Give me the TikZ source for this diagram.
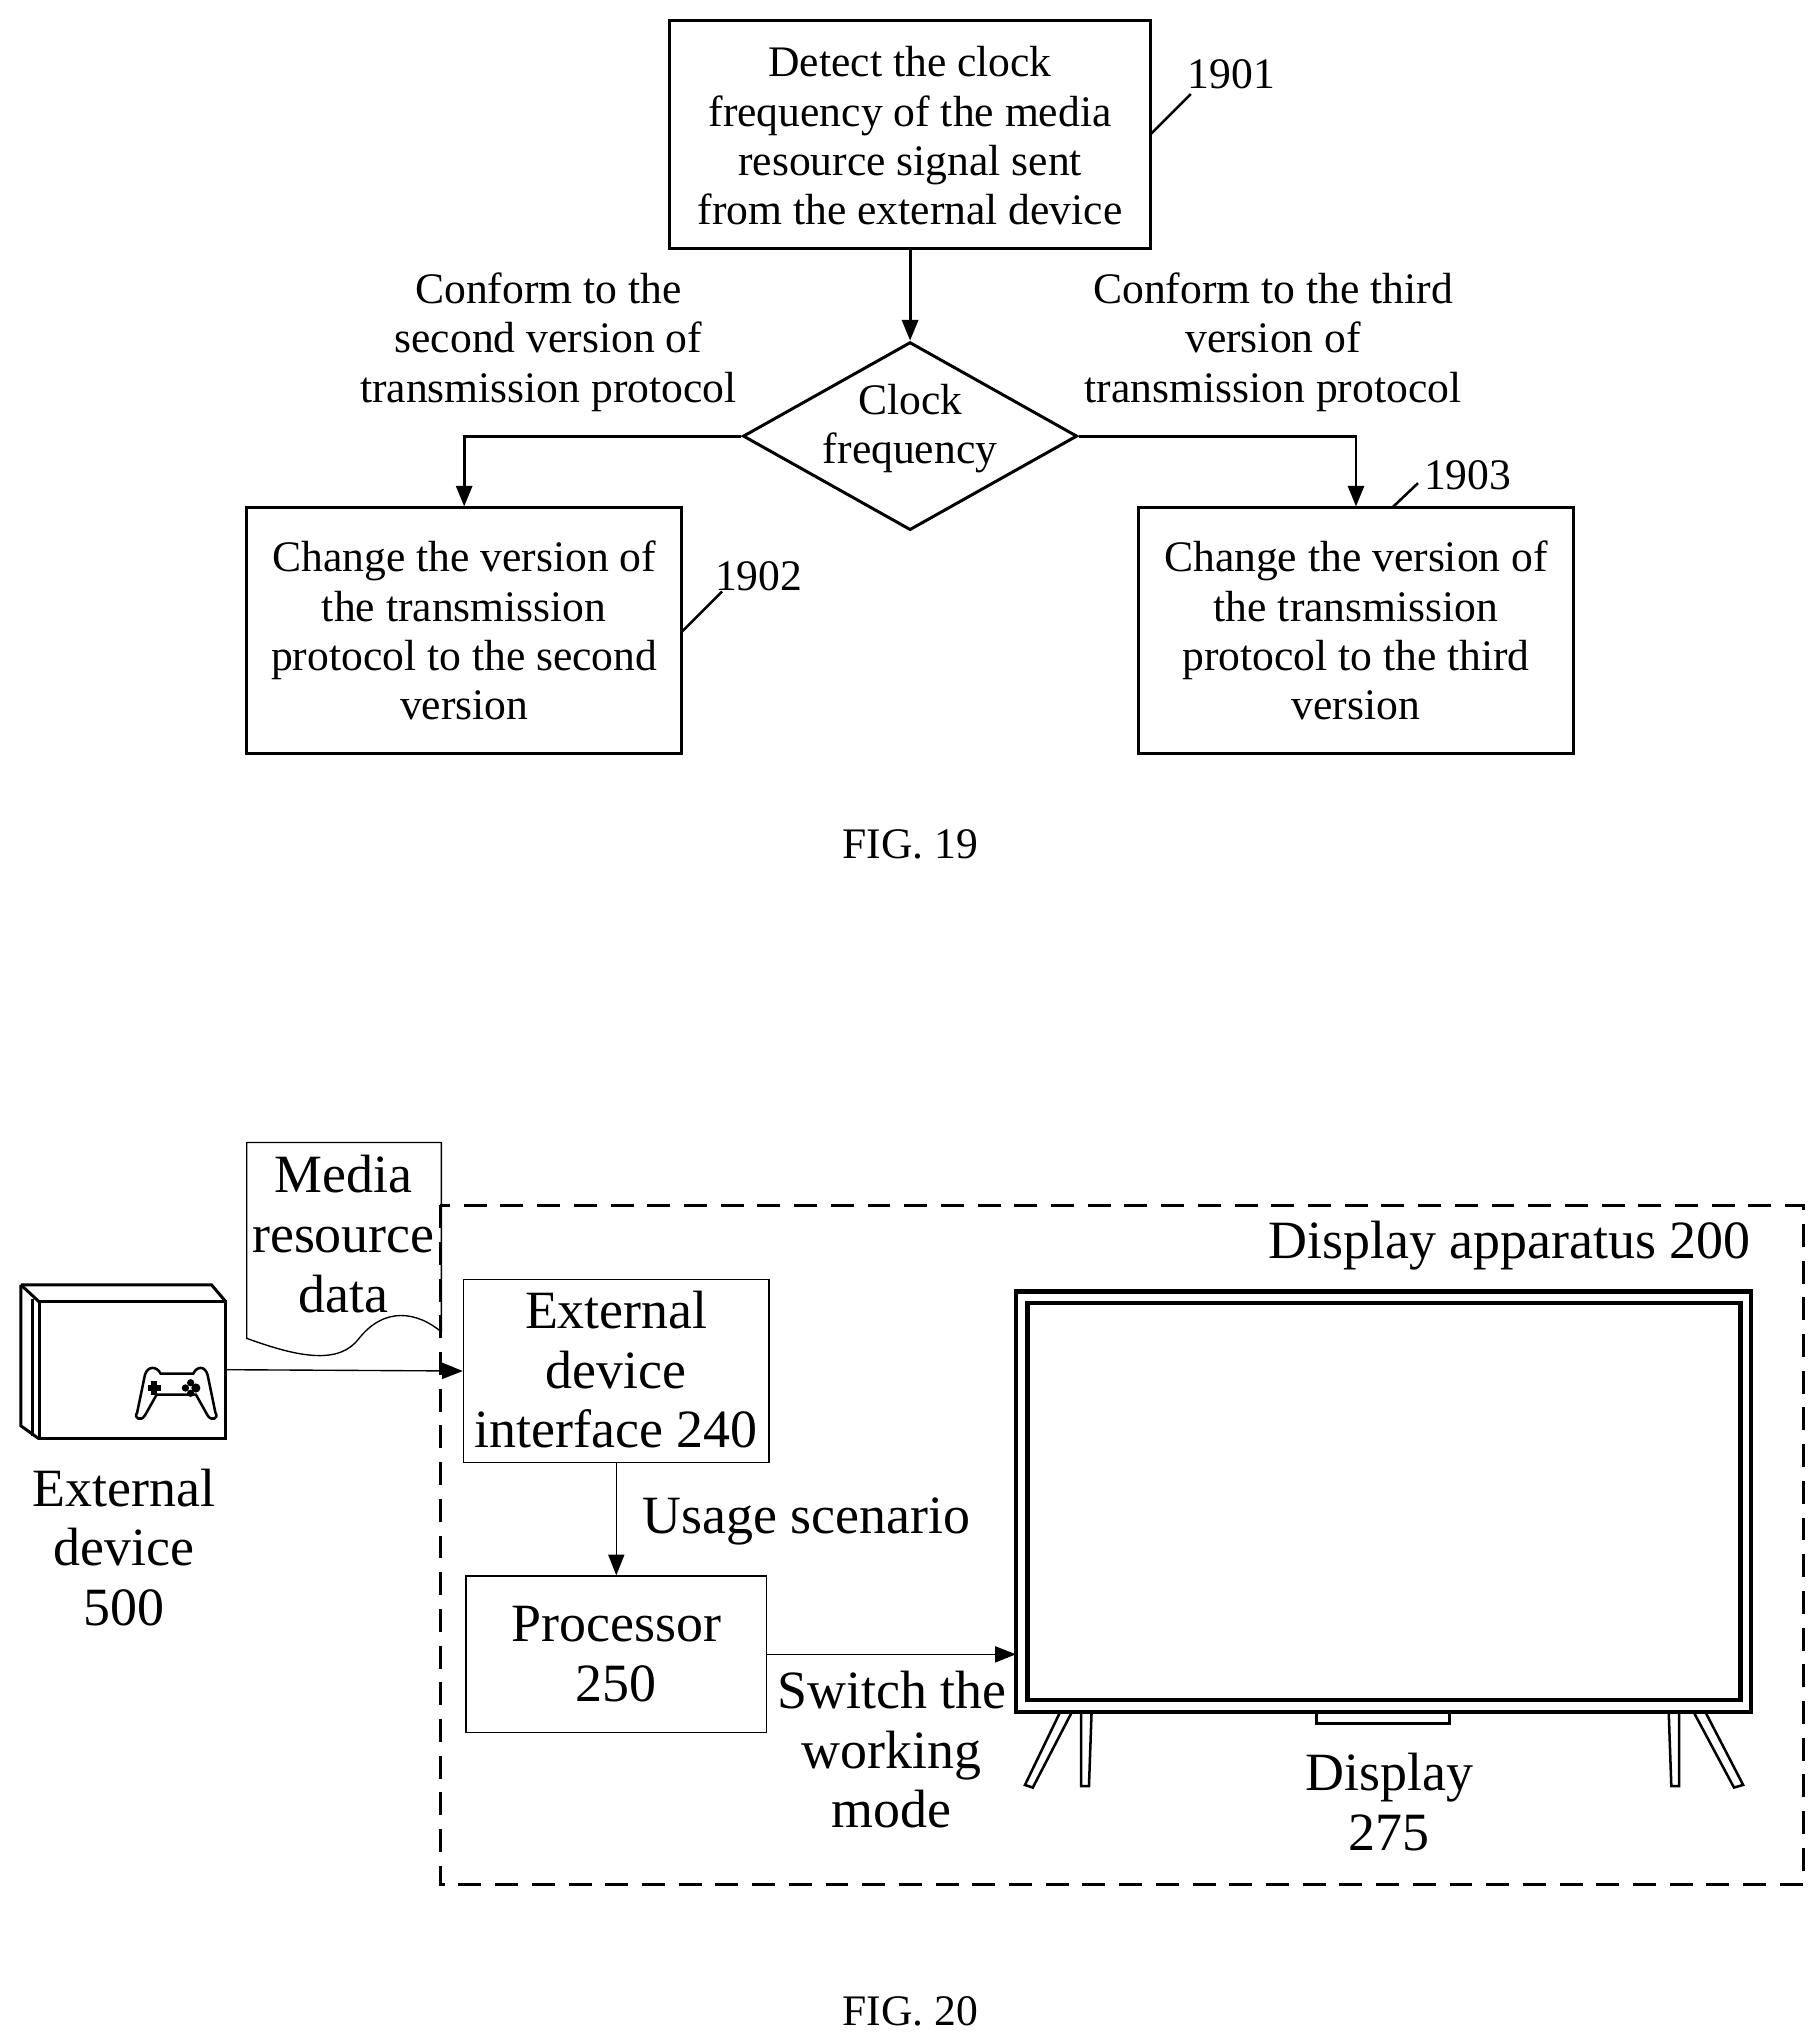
\documentclass[tikz,border=0pt]{standalone}
\usepackage{fontspec}
\setmainfont{Liberation Serif}
\usetikzlibrary{arrows.meta,shapes.geometric}
\begin{document}
\begin{tikzpicture}[x=0.02cm,y=-0.02cm,
  box/.style={draw,line width=1.3pt,inner sep=0pt},
  tb/.style={align=center,font=\fontsize{19}{21.5}\selectfont},
  big/.style={align=center,font=\fontsize{23.5}{26}\selectfont},
  arr/.style={line width=1.3pt,-{Triangle[length=9pt,width=7pt]}},
  thin/.style={line width=0.6pt,-{Triangle[length=9pt,width=7pt]}},
  lead/.style={line width=1.1pt}]
\useasboundingbox (0,0) rectangle (1390,1561.6);
% FIG 19
\node[box,minimum width=368*0.02cm,minimum height=174*0.02cm] (b1) at (697,103) {};
\node[tb] at (697,104) {Detect the clock\\frequency of the media\\resource signal sent\\from the external device};
\node[tb] (l1) at (943,57) {1901};
\draw[lead] (881,103) -- (912,72);
\node[draw,line width=1.3pt,diamond,minimum width=256*0.02cm,minimum height=144*0.02cm,inner sep=0pt,aspect=1.78] (d) at (697,334) {};
\node[tb] at (697,328) {Clock\\frequency};
\draw[arr] (b1.south) -- (d.north);
\node[box,minimum width=333*0.02cm,minimum height=188*0.02cm] (b2) at (355.5,483) {};
\node[tb] at (355.5,483) {Change the version of\\the transmission\\protocol to the second\\version};
\node[box,minimum width=333*0.02cm,minimum height=188*0.02cm] (b3) at (1038.5,483) {};
\node[tb] at (1038.5,483) {Change the version of\\the transmission\\protocol to the third\\version};
\draw[arr] (d.west) -| (b2.north);
\draw[arr] (d.east) -| (b3.north);
\node[tb] at (420,262) {Conform to the\\second version of\\transmission protocol};
\node[tb] at (975,262) {Conform to the third\\version of\\transmission protocol};
\node[tb] (l2) at (581,441) {1902};
\draw[lead] (522,484) -- (553,453);
\node[tb] (l3) at (1124,364) {1903};
\draw[lead] (1066,389) -- (1086,370);
\node[tb] (f19) at (697,647) {FIG. 19};
% FIG 20
\draw[line width=1.3pt,dash pattern=on 10pt off 6pt] (337,923) rectangle (1381,1443);
\node[big,anchor=east] (dap) at (1347,954) {Display apparatus 200};
% document shape
\draw[line width=0.6pt] (338,1020) -- (338,875) -- (189,875) -- (189,1025)
  .. controls (230,1040) and (260,1045) .. (275,1025) .. controls (295,1000) and (320,1005) .. (338,1020);
\node[big] (media) at (263,945) {Media\\resource\\data};
% console
\draw[line width=1.3pt] (30,997) -- (30,1102) -- (173,1102) -- (173,997) -- cycle;
\draw[line width=1.3pt] (16,984) -- (16,1092) -- (30,1102);
\draw[line width=1.3pt] (16,984) -- (162,984) -- (173,997);
\draw[line width=1.3pt] (16,984) -- (30,997);
\draw[line width=1.0pt] (25,995) -- (25,1100);
\node (cons) at (101,1043) {};
\begin{scope}[line width=1.1pt]
\draw (105,1082) .. controls (102,1086) and (108,1089) .. (111,1084) -- (120,1068) -- (150,1068) -- (159,1084)
 .. controls (162,1089) and (168,1086) .. (165,1082) -- (159,1053) .. controls (157,1046) and (151,1046) .. (148,1052)
 -- (123,1052) .. controls (120,1046) and (113,1046) .. (111,1053) -- cycle;
\fill (116,1058) rectangle (120,1068); \fill (113,1061) rectangle (123,1065);
\fill (150,1063) circle (2pt); \fill (146,1059) circle (1.6pt); \fill (146,1067) circle (1.6pt); \fill (142,1063) circle (1.6pt);
\end{scope}
\node[big] (extl) at (95,1185) {External\\device\\500};
% interface
\node[draw,line width=0.6pt,minimum width=234*0.02cm,minimum height=140*0.02cm,inner sep=0pt] (if) at (472,1050) {};
\node[big] at (472,1049) {External\\device\\interface 240};
\node[draw,line width=0.6pt,minimum width=230*0.02cm,minimum height=120*0.02cm,inner sep=0pt] (pr) at (472,1267) {};
\node[big] at (472,1267) {Processor\\250};
\coordinate (cr) at (173,1049);
\draw[thin] (cr) -- (if.west);
\draw[thin] (if.south) -- (pr.north);
\node[big,anchor=west] (us) at (486,1165) {Usage scenario};
% TV
\draw[line width=2pt] (778,989) rectangle (1341,1311);
\draw[line width=2pt] (787,998) rectangle (1333,1302);
\coordinate (tvl) at (778,1267);
\draw[thin] (pr.east) -- (tvl);
\node[big] (sw) at (683,1340) {Switch the\\working\\mode};
\draw[line width=1.3pt] (1008,1311) -- (1008,1320) -- (1110,1320) -- (1110,1311);
\draw[line width=1.1pt] (812,1311) -- (785,1367) -- (791,1369) -- (821,1311);
\draw[line width=1.1pt] (828,1311) -- (828,1368) -- (834,1368) -- (836,1311);
\draw[line width=1.1pt] (1278,1311) -- (1280,1368) -- (1286,1368) -- (1286,1311);
\draw[line width=1.1pt] (1297,1311) -- (1328,1369) -- (1335,1367) -- (1306,1311);
\node[big] (dl) at (1064,1380) {Display\\275};
\node[tb] (f20) at (697,1540) {FIG. 20};
\end{tikzpicture}
\end{document}
